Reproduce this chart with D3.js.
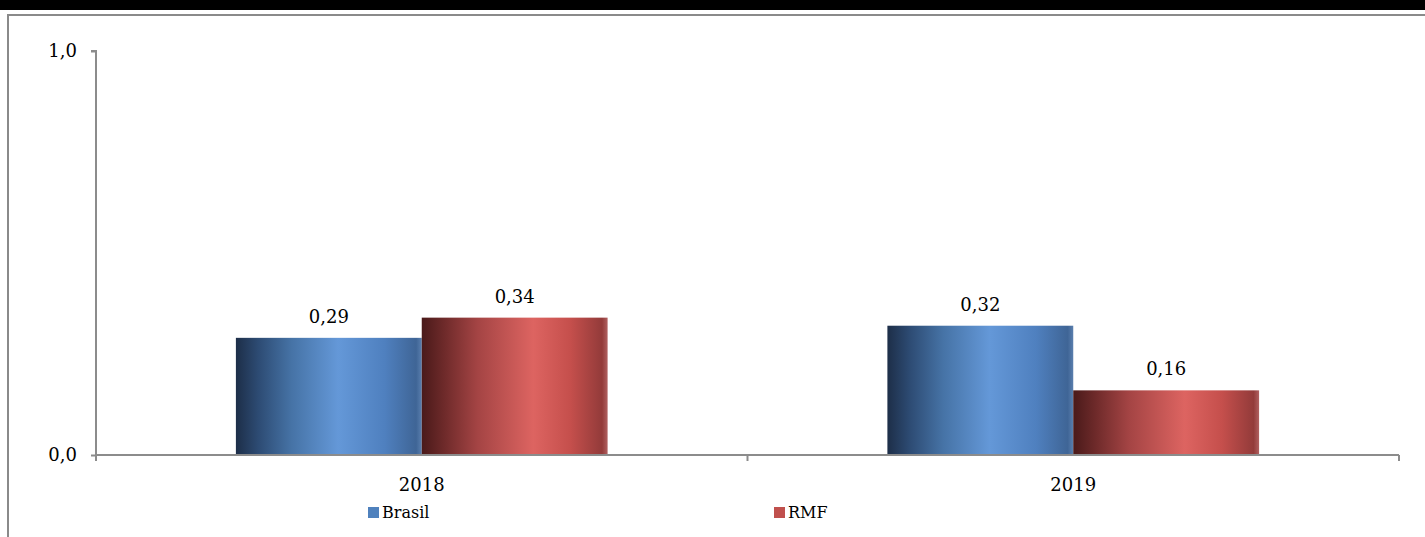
<!DOCTYPE html>
<html><head><meta charset="utf-8">
<script src="https://cdn.jsdelivr.net/npm/d3@7"></script>
<style>html,body{margin:0;padding:0;background:#fff;}svg{display:block;}</style>
</head><body>
<script>
const categories = ["2018", "2019"];
const seriesNames = ["Brasil", "RMF"];
const brasilValues = [0.29, 0.32];
const rmfValues = [0.34, 0.16];
const yTicks = [0, 1];

const W = 1425, H = 537;
const svg = d3.select("body").append("svg").attr("width", W).attr("height", H);
const font = "'DejaVu Serif', 'Liberation Serif', serif";
const fs = 18;

// top black band & frame
svg.append("rect").attr("x",0).attr("y",0).attr("width",W).attr("height",10).attr("fill","#000");
svg.append("line").attr("x1",7).attr("x2",W).attr("y1",15).attr("y2",15).attr("stroke","#8a8a8a").attr("stroke-width",2);
svg.append("line").attr("x1",8).attr("x2",8).attr("y1",14).attr("y2",H).attr("stroke","#8a8a8a").attr("stroke-width",2);

const m = {left:96, right:1399, top:51, bottom:455};
const x0 = d3.scaleBand().domain(categories).range([m.left, m.right]).paddingInner(0).paddingOuter(0);
const x1 = d3.scaleBand().domain(seriesNames).range([0, x0.bandwidth()]).paddingOuter(0.7527).paddingInner(0);
const y = d3.scaleLinear().domain([0,1]).range([m.bottom, m.top]);

const defs = svg.append("defs");
function grad(id, stops){
  const g = defs.append("linearGradient").attr("id",id).attr("x1","0").attr("x2","1").attr("y1","0").attr("y2","0");
  stops.forEach(s=>g.append("stop").attr("offset",s[0]).attr("stop-color",s[1]));
}
grad("gBlue", [[0,"#1d2e48"],[0.12,"#2d4b73"],[0.3,"#4673a6"],[0.55,"#6498d8"],[0.8,"#4f80bf"],[0.97,"#3f6596"],[1,"#5a7fae"]]);
grad("gRed", [[0,"#4a1a1a"],[0.12,"#6e2a2a"],[0.3,"#a44444"],[0.6,"#dd6461"],[0.8,"#c54f4c"],[0.97,"#933b3a"],[1,"#b06060"]]);
const fills = {"Brasil":"url(#gBlue)","RMF":"url(#gRed)"};
const legendColors = {"Brasil":"#4f81bd","RMF":"#c0504d"};

const data = categories.map((c,i)=>({cat:c, vals:[{s:"Brasil",v:brasilValues[i]},{s:"RMF",v:rmfValues[i]}]}));

const groups = svg.append("g").selectAll("g").data(data).join("g")
  .attr("transform", d=>`translate(${x0(d.cat)},0)`);
groups.selectAll("rect").data(d=>d.vals).join("rect")
  .attr("x", d=>x1(d.s)).attr("width", x1.bandwidth())
  .attr("y", d=>y(d.v)).attr("height", d=>y(0)-y(d.v))
  .attr("fill", d=>fills[d.s]);
groups.selectAll("text").data(d=>d.vals).join("text")
  .attr("x", d=>x1(d.s)+x1.bandwidth()/2).attr("y", d=>y(d.v)-15)
  .attr("text-anchor","middle").attr("font-family",font).attr("font-size",fs).attr("fill","#000")
  .text(d=>d3.format(".2f")(d.v).replace(".",","));

// y axis
const yAxis = d3.axisLeft(y).tickValues(yTicks).tickSize(5).tickPadding(14)
  .tickFormat(d=>d3.format(".1f")(d).replace(".",","));
const gy = svg.append("g").attr("transform",`translate(${m.left},0)`).call(yAxis);
gy.select(".domain").attr("stroke","#8c8c8c").attr("stroke-width",2).attr("d",`M-5,${m.top}H0V${m.bottom}`);
gy.selectAll(".tick line").attr("stroke","#8c8c8c").attr("stroke-width",2);
gy.selectAll(".tick text").attr("font-family",font).attr("font-size",fs).attr("fill","#000");

// x axis
const gx = svg.append("g").attr("transform",`translate(0,${m.bottom})`);
gx.append("line").attr("x1",m.left-1).attr("x2",m.right).attr("y1",0).attr("y2",0).attr("stroke","#8c8c8c").attr("stroke-width",2);
const bounds = [m.left, ...categories.map(c=>x0(c)+x0.bandwidth())];
gx.selectAll("line.tk").data(bounds).join("line").attr("class","tk")
  .attr("x1",d=>d).attr("x2",d=>d).attr("y1",0).attr("y2",6).attr("stroke","#8c8c8c").attr("stroke-width",2);
gx.selectAll("text").data(categories).join("text")
  .attr("x",d=>x0(d)+x0.bandwidth()/2).attr("y",36)
  .attr("text-anchor","middle").attr("font-family",font).attr("font-size",fs).attr("fill","#000").text(d=>d);

// legend
const legX = [368, 774];
const lg = svg.append("g").selectAll("g").data(seriesNames).join("g")
  .attr("transform",(d,i)=>`translate(${legX[i]},507)`);
lg.append("rect").attr("width",11).attr("height",11).attr("fill",d=>legendColors[d]);
lg.append("text").attr("x",14).attr("y",11).attr("font-family",font).attr("font-size",16).attr("fill","#000").text(d=>d);
</script>
</body></html>
